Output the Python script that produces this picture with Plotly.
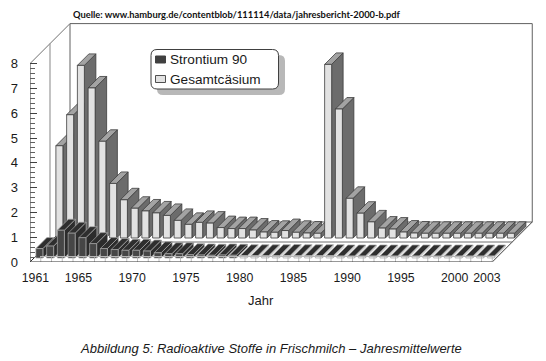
import plotly.graph_objects as go

years = list(range(1961, 2004))
strontium = [0.38, 0.48, 1.12, 1.0, 0.82, 0.58, 0.38, 0.34, 0.31, 0.31, 0.28, 0.21, 0.17, 0.17, 0.13,
             0.12, 0.11, 0.12, 0.11, 0.09, 0.09, 0.09, 0.09, 0.1, 0.09, 0.09, 0.09, 0.09, 0.08, 0.08,
             0.08, 0.08, 0.08, 0.08, 0.08, 0.08, 0.08, 0.08, 0.08, 0.08, 0.08, 0.08, 0.08]
caesium = [3.72, 4.97, 6.96, 6.05, 3.9, 2.2, 1.54, 1.2, 1.09, 1.01, 0.91, 0.71, 0.55, 0.63, 0.6,
           0.42, 0.38, 0.38, 0.32, 0.24, 0.23, 0.3, 0.23, 0.2, 0.19, 7.0, 5.2, 1.6, 1.0, 0.65,
           0.4, 0.36, 0.24, 0.2, 0.19, 0.19, 0.19, 0.19, 0.19, 0.19, 0.19, 0.19, 0.19]
year_ticks = [1961, 1965, 1970, 1975, 1980, 1985, 1990, 1995, 2000, 2003]
value_ticks = list(range(0, 9))
minor_ticks = [i / 5 for i in range(0, 41) if i % 5]

W, H = 546, 361
L, R, T, B = 30, 12, 20, 99
PX_YEAR, PX_VALUE = 10.75, 24.8          # pixels per year / per unit
X0 = 1960.5
YMAX = (H - T - B) / PX_VALUE
XMAX = X0 + (W - L - R) / PX_YEAR
PW, PH = W - L - R, H - T - B


def dx(p):
    return p / PX_YEAR


def dy(p):
    return p / PX_VALUE


def px(x):
    return (x - L) / PW


def py(y):
    return (H - B - y) / PH


fig = go.Figure()


def poly(xs, ys, fill, line, width=1, closed=True):
    fig.add_trace(go.Scatter(
        x=xs, y=ys, mode="lines", fill="toself" if closed else None,
        fillcolor=fill, line=dict(color=line, width=width),
        hoverinfo="skip", showlegend=False))


def seg(xs, ys, color, width=1):
    poly(xs, ys, None, color, width, closed=False)


XEND = years[-1] + 0.5
# walls and floor frame
seg([X0 + dx(40), X0 + dx(40), XEND + dx(40), XEND + dx(40), X0 + dx(40)],
    [dy(40), 8 + dy(40), 8 + dy(40), dy(40), dy(40)], "#606060")
seg([X0, X0 + dx(40)], [8, 8 + dy(40)], "#707070")
seg([X0, X0 + dx(40)], [0, dy(40)], "#303030")
seg([X0 + dx(20), X0 + dx(20)], [dy(20), 8 + dy(20)], "#9a9a9a", 1.2)
seg([XEND, XEND + dx(40)], [0, dy(40)], "#404040")
seg([X0 + dx(20), XEND + dx(20)], [dy(20), dy(20)], "#707070")


def bars(values, depth, width, bar_depth, front, side, top, edge, lw, low_front=None, low_side=None):
    for yr, v in zip(years, values):
        x0 = yr + dx(depth - width / 2)
        x1 = yr + dx(depth + width / 2)
        b = dy(depth)
        t = b + v
        ox, oy = dx(bar_depth), dy(bar_depth)
        low = low_front is not None and v <= 0.1
        poly([x1, x1 + ox, x1 + ox, x1, x1], [b, b + oy, t + oy, t, b],
             low_side if low else side, low_side if low else edge, lw)
        poly([x0, x1, x1 + ox, x0 + ox, x0], [t, t, t + oy, t + oy, t], top, edge, lw)
        poly([x0, x1, x1, x0, x0], [b, b, t, t, b], low_front if low else front, edge, lw)


bars(caesium, 24, 7, 11.5, "#e2e2e2", "#6c6c6c", "#a3a3a3", "#3c3c3c", 0.8)
# Strontium row: very low bars leave only their top stripes visible
bars(strontium, 4, 7, 11, "#464646", "#2c2c2c", "#2e2e2e", "#a8a8a8", 0.7,
     low_front="#f0f0f0", low_side="#d0d0d0")
# grey rule under the front row and category marks on the floor
seg([X0 + dx(10), XEND], [dy(5.5), dy(5.5)], "#b8b8b8")
for edge_x in [y - 0.5 for y in years] + [XEND]:
    seg([edge_x, edge_x], [0, dy(5.5)], "#b0b0b0", 0.8)

# axes
seg([X0, X0], [0, 8], "#303030")
seg([X0, XEND], [0, 0], "#303030")


def rounded(x0, y0, x1, y1, r):
    X = px
    Y = py
    return (f"M {X(x0 + r)} {Y(y0)} L {X(x1 - r)} {Y(y0)} Q {X(x1)} {Y(y0)} {X(x1)} {Y(y0 + r)} "
            f"L {X(x1)} {Y(y1 - r)} Q {X(x1)} {Y(y1)} {X(x1 - r)} {Y(y1)} "
            f"L {X(x0 + r)} {Y(y1)} Q {X(x0)} {Y(y1)} {X(x0)} {Y(y1 - r)} "
            f"L {X(x0)} {Y(y0 + r)} Q {X(x0)} {Y(y0)} {X(x0 + r)} {Y(y0)} Z")


def rect(x0, y0, x1, y1, fill, line):
    return dict(type="rect", xref="paper", yref="paper", x0=px(x0), x1=px(x1), y0=py(y0), y1=py(y1),
                fillcolor=fill, line=dict(color=line, width=1))


shapes = [
    dict(type="path", xref="paper", yref="paper", path=rounded(157, 55, 285, 95, 6),
         fillcolor="#b8b8b8", line=dict(width=0)),
    dict(type="path", xref="paper", yref="paper", path=rounded(151, 49.5, 278.5, 89, 6),
         fillcolor="white", line=dict(color="#404040", width=1)),
    rect(155.5, 56, 165.5, 63, "#404040", "#404040"),
    rect(155.5, 75.5, 165.5, 82.5, "#e2e2e2", "#505050"),
]


def note(text, x, y, size, anchor="left", family="Liberation Sans", color="#1a1a1a"):
    return dict(text=text, xref="paper", yref="paper", x=px(x), y=py(y), showarrow=False,
                xanchor=anchor, yanchor="middle", font=dict(family=family, size=size, color=color))


annotations = [
    note("Strontium 90", 167.5, 59.5, 13.6),
    note("Gesamtcäsium", 167.5, 79.5, 13.6),
    note("Jahr", 260.7, 300.5, 13, "center"),
    note("<i>Abbildung 5: Radioaktive Stoffe in Frischmilch – Jahresmittelwerte</i>", 271, 348, 13, "center"),
    note("<b>Quelle: www.hamburg.de/contentblob/111114/data/jahresbericht-2000-b.pdf</b>", 71, 15, 9.33,
         family="Lato", color="#111111"),
]

fig.update_layout(
    width=W, height=H, margin=dict(l=L, r=R, t=T, b=B, pad=0),
    paper_bgcolor="white", plot_bgcolor="white", showlegend=False,
    shapes=shapes, annotations=annotations,
    font=dict(family="Liberation Sans", size=12, color="#1a1a1a"),
    xaxis=dict(range=[X0, XMAX], showgrid=False, zeroline=False, showline=False,
               tickmode="array", tickvals=year_ticks, ticks="", ticklabelstandoff=7,
               tickfont=dict(size=12.3)),
    yaxis=dict(range=[0, YMAX], showgrid=False, zeroline=False, showline=False,
               tickmode="array", tickvals=value_ticks, ticks="inside", ticklen=7,
               tickcolor="#404040", ticklabelstandoff=11, tickfont=dict(size=13),
               minor=dict(tickmode="array", tickvals=minor_ticks, ticks="inside", ticklen=5,
                          tickcolor="#606060")),
)

fig.write_html("out.html", post_script="document.body.style.margin='0';",
               config=dict(displayModeBar=False))
